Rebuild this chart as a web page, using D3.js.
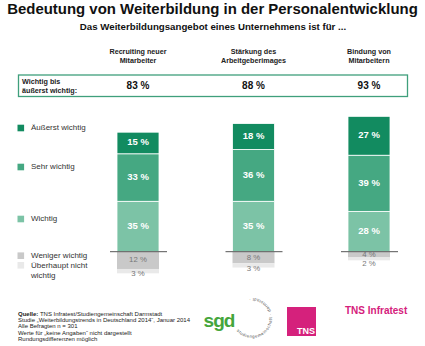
<!DOCTYPE html>
<html>
<head>
<meta charset="utf-8">
<script src="https://cdn.jsdelivr.net/npm/d3@7"></script>
<style>
  body { margin: 0; background: #fff; }
  svg { display: block; font-family: "Liberation Sans", Arial, sans-serif; }
</style>
</head>
<body>
<svg id="chart" width="425" height="346"></svg>
<script>
// categories and answer shares (%)
const categories = ["Recruiting neuer Mitarbeiter", "Stärkung des Arbeitgeberimages", "Bindung von Mitarbeitern"];
const headerLines = [["Recruiting neuer", "Mitarbeiter"], ["Stärkung des", "Arbeitgeberimages"], ["Bindung von", "Mitarbeitern"]];
const aeusserst = [15, 18, 27];
const sehr = [33, 36, 39];
const wichtig = [35, 35, 28];
const weniger = [12, 8, 4];
const ueberhaupt = [3, 3, 2];
const totals = [83, 88, 93];

const series = [
  { key: "wichtig", label: "Wichtig", values: wichtig, color: "#7cc3a6" },
  { key: "sehr", label: "Sehr wichtig", values: sehr, color: "#45a882" },
  { key: "aeusserst", label: "Äußerst wichtig", values: aeusserst, color: "#128b60" },
  { key: "weniger", label: "Weniger wichtig", values: weniger, color: "#c9c9c9", neg: true },
  { key: "ueberhaupt", label: "Überhaupt nicht wichtig", values: ueberhaupt, color: "#e9e9e9", neg: true }
];

const svg = d3.select("#chart");

// title, fitted to the page width
const title = svg.append("text")
  .attr("x", 212.5).attr("y", 10)
  .attr("text-anchor", "middle").attr("dominant-baseline", "middle")
  .style("font-weight", "bold").style("font-size", "15px").attr("fill", "#111")
  .text("Bedeutung von Weiterbildung in der Personalentwicklung");
const tl = title.node().getComputedTextLength();
title.style("font-size", (15 * 411 / tl) + "px");

svg.append("text")
  .attr("x", 213).attr("y", 27)
  .attr("text-anchor", "middle").attr("dominant-baseline", "middle")
  .style("font-weight", "bold").style("font-size", "9.7px").attr("fill", "#111")
  .text("Das Weiterbildungsangebot eines Unternehmens ist für ...");

const x = d3.scalePoint().domain(categories).range([138, 369]);
const y = d3.scaleLinear().domain([-20, 100]).range([280.5, 107.7]);
const barW = 42;

// column headers
categories.forEach((c, i) => {
  const t = svg.append("text")
    .attr("x", x(c)).attr("y", 51)
    .attr("text-anchor", "middle")
    .style("font-weight", "bold").style("font-size", "7.2px").attr("fill", "#222");
  headerLines[i].forEach((line, j) => {
    t.append("tspan").attr("x", x(c)).attr("dy", j === 0 ? "0.35em" : "9.5px").text(line);
  });
});

// summary box
svg.append("rect")
  .attr("x", 18.5).attr("y", 75).attr("width", 389).attr("height", 21.5)
  .attr("fill", "none").attr("stroke", "#3f9f7c").attr("stroke-width", 1.3);
const sumLabel = svg.append("text")
  .attr("x", 22).attr("y", 81)
  .style("font-weight", "bold").style("font-size", "7.2px").attr("fill", "#222");
sumLabel.append("tspan").attr("x", 22).attr("dy", "0.35em").text("Wichtig bis");
sumLabel.append("tspan").attr("x", 22).attr("dy", "9px").text("äußerst wichtig:");
svg.selectAll(".total")
  .data(totals)
  .enter()
  .append("text")
  .attr("class", "total")
  .attr("x", (d, i) => x(categories[i]))
  .attr("y", 86)
  .attr("text-anchor", "middle").attr("dominant-baseline", "middle")
  .style("font-weight", "bold").style("font-size", "10px").attr("fill", "#111")
  .text(d => d + " %");

// stacked bars, positive part above the baseline, rejections below
const rows = categories.map((c, i) => {
  const r = { cat: c };
  series.forEach(s => { r[s.key] = s.neg ? -s.values[i] : s.values[i]; });
  return r;
});
const stack = d3.stack().keys(series.map(s => s.key)).offset(d3.stackOffsetDiverging)(rows);

const mid = d => y((d[0] + d[1]) / 2);
const g = svg.append("g");
stack.forEach((layer, li) => {
  const s = series[li];
  g.selectAll(".seg-" + s.key)
    .data(layer)
    .enter()
    .append("rect")
    .attr("x", d => x(d.data.cat) - barW / 2)
    .attr("y", d => y(Math.max(d[0], d[1])))
    .attr("width", barW)
    .attr("height", d => Math.abs(y(d[0]) - y(d[1])))
    .attr("fill", s.color)
    .attr("stroke", "#fff").attr("stroke-width", s.neg ? 0 : 0.8);

  g.selectAll(".lab-" + s.key)
    .data(layer)
    .enter()
    .append("text")
    .attr("x", d => x(d.data.cat))
    .attr("y", (d, i) => {
      // the thin bottom segment gets its label just under it, clear of the one above
      if (s.key === "ueberhaupt") {
        const above = stack[li - 1][i];
        return Math.max(y(Math.min(d[0], d[1])) + 1, mid(above) + 9);
      }
      return mid(d);
    })
    .attr("text-anchor", "middle").attr("dominant-baseline", "middle")
    .style("font-weight", s.neg ? "normal" : "bold")
    .style("font-size", s.neg ? "7.8px" : "9.5px")
    .attr("fill", s.neg ? "#777" : "#fff")
    .text(d => Math.abs(d.data[s.key]) + " %");
});

// baseline between agreement and rejection
categories.forEach(c => {
  svg.append("line")
    .attr("x1", x(c) - 28).attr("x2", x(c) + 29)
    .attr("y1", y(0)).attr("y2", y(0))
    .attr("stroke", "#555").attr("stroke-width", 1);
});

// legend
const legendY = { aeusserst: 128, sehr: 167, wichtig: 219, weniger: 255.7, ueberhaupt: 265.3 };
series.forEach(s => {
  const ly = legendY[s.key];
  svg.append("rect")
    .attr("x", 17.5).attr("y", ly - 3.3).attr("width", 6.6).attr("height", 6.6)
    .attr("fill", s.color);
  const t = svg.append("text")
    .attr("x", 31).attr("y", ly)
    .style("font-size", "8px").attr("fill", "#333");
  if (s.key === "ueberhaupt") {
    t.append("tspan").attr("x", 31).attr("dy", "0.35em").text("Überhaupt nicht");
    t.append("tspan").attr("x", 31).attr("dy", "9.5px").text("wichtig");
  } else {
    t.attr("dominant-baseline", "middle").text(s.label);
  }
});

// source notes
const notes = [
  [["Quelle:", true], [" TNS Infratest/Studiengemeinschaft Darmstadt", false]],
  [["Studie „Weiterbildungstrends in Deutschland 2014“, Januar 2014", false]],
  [["Alle Befragten n = 301", false]],
  [["Werte für „keine Angaben“ nicht dargestellt", false]],
  [["Rundungsdifferenzen möglich", false]]
];
notes.forEach((parts, i) => {
  const t = svg.append("text")
    .attr("x", 18).attr("y", 315.5 + i * 6.4)
    .style("font-size", "6px").attr("fill", "#222");
  parts.forEach(p => t.append("tspan").style("font-weight", p[1] ? "bold" : "normal").text(p[0]));
});

// sgd logo
svg.append("text")
  .attr("x", 219).attr("y", 327)
  .attr("text-anchor", "middle")
  .style("font-weight", "bold").style("font-size", "19px").style("letter-spacing", "-1px")
  .attr("fill", "#45a63c")
  .text("sgd");
const cx = 252, cy = 318, r = 20;
svg.append("path")
  .attr("id", "ring")
  .attr("fill", "none")
  .attr("d", `M${cx - r},${cy} A${r},${r} 0 1 0 ${cx + r},${cy} A${r},${r} 0 1 0 ${cx - r},${cy}`);
svg.append("text")
  .style("font-size", "4.3px").style("letter-spacing", "0.55px").attr("fill", "#555")
  .append("textPath")
  .attr("href", "#ring")
  .attr("startOffset", "11%")
  .text("studiengemeinschaft · darmstadt ·");

// TNS logo
svg.append("rect")
  .attr("x", 287).attr("y", 307).attr("width", 29).attr("height", 29)
  .attr("fill", "#d5217c");
svg.append("text")
  .attr("x", 315).attr("y", 334)
  .attr("text-anchor", "end")
  .style("font-weight", "bold").style("font-size", "9px").attr("fill", "#fff")
  .text("TNS");
svg.append("text")
  .attr("x", 345).attr("y", 311)
  .attr("dominant-baseline", "middle")
  .style("font-weight", "bold").style("font-size", "10px").attr("fill", "#d5217c")
  .text("TNS Infratest");
</script>
</body>
</html>
